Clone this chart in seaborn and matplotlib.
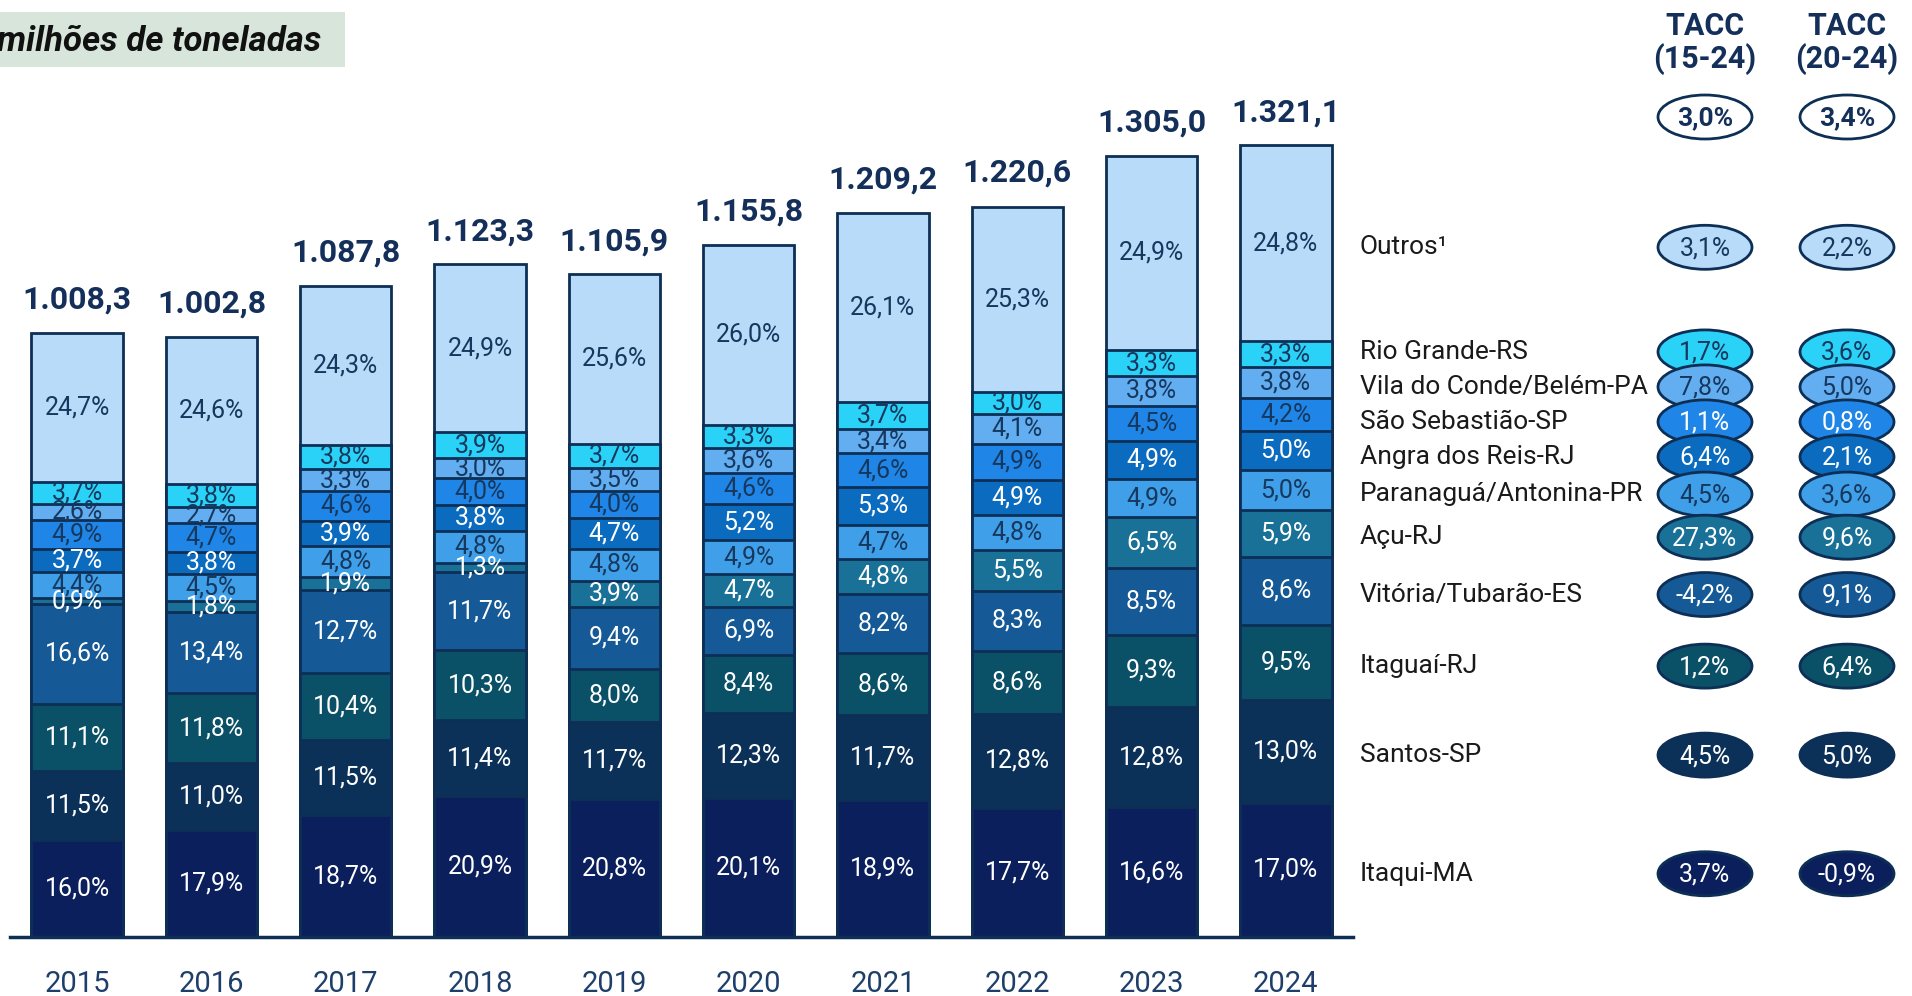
import numpy as np
import pandas as pd
import matplotlib.pyplot as plt
from matplotlib.patches import Ellipse, Rectangle
import seaborn as sns

# anos e totais (milhões de toneladas)
years = ["2015", "2016", "2017", "2018", "2019", "2020", "2021", "2022", "2023", "2024"]
totals = [1008.3, 1002.8, 1087.8, 1123.3, 1105.9, 1155.8, 1209.2, 1220.6, 1305.0, 1321.1]

# participação (%) de cada porto, de baixo para cima
itaqui = [16.0, 17.9, 18.7, 20.9, 20.8, 20.1, 18.9, 17.7, 16.6, 17.0]
santos = [11.5, 11.0, 11.5, 11.4, 11.7, 12.3, 11.7, 12.8, 12.8, 13.0]
itaguai = [11.1, 11.8, 10.4, 10.3, 8.0, 8.4, 8.6, 8.6, 9.3, 9.5]
vitoria = [16.6, 13.4, 12.7, 11.7, 9.4, 6.9, 8.2, 8.3, 8.5, 8.6]
acu = [0.9, 1.8, 1.9, 1.3, 3.9, 4.7, 4.8, 5.5, 6.5, 5.9]
paranagua = [4.4, 4.5, 4.8, 4.8, 4.8, 4.9, 4.7, 4.8, 4.9, 5.0]
angra = [3.7, 3.8, 3.9, 3.8, 4.7, 5.2, 5.3, 4.9, 4.9, 5.0]
sao_sebastiao = [4.9, 4.7, 4.6, 4.0, 4.0, 4.6, 4.6, 4.9, 4.5, 4.2]
vila_do_conde = [2.6, 2.7, 3.3, 3.0, 3.5, 3.6, 3.4, 4.1, 3.8, 3.8]
rio_grande = [3.7, 3.8, 3.8, 3.9, 3.7, 3.3, 3.7, 3.0, 3.3, 3.3]
outros = [24.7, 24.6, 24.3, 24.9, 25.6, 26.0, 26.1, 25.3, 24.9, 24.8]

ports = ["Itaqui-MA", "Santos-SP", "Itaguaí-RJ", "Vitória/Tubarão-ES", "Açu-RJ",
         "Paranaguá/Antonina-PR", "Angra dos Reis-RJ", "São Sebastião-SP",
         "Vila do Conde/Belém-PA", "Rio Grande-RS", "Outros¹"]
shares = [itaqui, santos, itaguai, vitoria, acu, paranagua, angra,
          sao_sebastiao, vila_do_conde, rio_grande, outros]

# TACC por porto (mesma ordem) e total
tacc_15_24 = ["3,7%", "4,5%", "1,2%", "-4,2%", "27,3%", "4,5%", "6,4%", "1,1%", "7,8%", "1,7%", "3,1%"]
tacc_20_24 = ["-0,9%", "5,0%", "6,4%", "9,1%", "9,6%", "3,6%", "2,1%", "0,8%", "5,0%", "3,6%", "2,2%"]
tacc_total = ["3,0%", "3,4%"]

colors = ["#0b1f5c", "#0c3158", "#0a5168", "#155a96", "#1a7198", "#3f9fe8",
          "#0b6bbf", "#1f86e8", "#62aef0", "#2ad2f7", "#b7dbf8"]
NAVY = "#0d2f55"
DARK_TXT = "#17385e"
bar_txt = ["white"] * 5 + [DARK_TXT, "white", DARK_TXT, DARK_TXT, DARK_TXT, DARK_TXT]
ell_txt = ["white"] * 5 + [DARK_TXT, "white", "white", DARK_TXT, DARK_TXT, DARK_TXT]

sns.set_style("white")
plt.rcParams["font.family"] = ["Roboto", "DejaVu Sans"]

W, H = 1912, 996
fig = plt.figure(figsize=(W / 100, H / 100), dpi=100)
ax = fig.add_axes([10 / W, 1 - 937 / H, 1343 / W, 937 / H])

vals = np.array(shares) / 100 * np.array(totals)  # milhões de toneladas
cum = np.cumsum(vals, axis=0)

# barras empilhadas: acumulados sobrepostos, do topo para a base
for i in reversed(range(len(ports))):
    df = pd.DataFrame({"ano": years, "v": cum[i]})
    sns.barplot(data=df, x="ano", y="v", color=colors[i], saturation=1,
                width=0.68, edgecolor=NAVY, linewidth=2, errorbar=None, ax=ax)

ax.set_xlim(-0.5, 9.5)
ax.set_ylim(0, max(totals) * 937 / 791)
ax.set_xlabel("")
ax.set_ylabel("")
ax.set_yticks([])
for s in ["left", "right", "top"]:
    ax.spines[s].set_visible(False)
ax.spines["bottom"].set_color(NAVY)
ax.spines["bottom"].set_linewidth(2.5)
ax.set_xticks(range(len(years)))
ax.set_xticklabels(years, fontsize=21, color="#1f3f6b")
ax.tick_params(axis="x", which="major", length=0, pad=24)
ax.set_xticks(np.arange(-0.5, len(years)), minor=True)
ax.tick_params(axis="x", which="minor", length=10, width=2.5, color=NAVY, direction="out")

# rótulos de participação
for i in range(len(ports)):
    for j in range(len(years)):
        y = cum[i][j] - vals[i][j] / 2
        ax.text(j, y, f"{shares[i][j]:.1f}".replace(".", ",") + "%", ha="center", va="center",
                fontsize=18, color=bar_txt[i], zorder=10)

# totais
for j, t in enumerate(totals):
    lbl = f"{t:,.1f}".replace(",", "X").replace(".", ",").replace("X", ".")
    ax.annotate(lbl, (j, t), xytext=(0, 24), textcoords="offset points", ha="center",
                va="center", fontsize=23, fontweight="bold", color="#14305a")

# camada de sobreposição em pixels
ov = fig.add_axes([0, 0, 1, 1])
ov.set_xlim(0, W)
ov.set_ylim(H, 0)
ov.axis("off")
ov.patch.set_alpha(0)

# título
ov.add_patch(Rectangle((0, 12), 345, 55, facecolor="#d7e5db", edgecolor="none"))
ov.text(-3, 41, "milhões de toneladas", fontsize=25, fontweight="bold", style="italic",
        color="#111111", va="center", ha="left")

# cabeçalho TACC
cx = [1705, 1847]
for x, h in zip(cx, ["(15-24)", "(20-24)"]):
    ov.text(x, 26, "TACC", ha="center", va="center", fontsize=22, fontweight="bold", color="#14305a")
    ov.text(x, 59, h, ha="center", va="center", fontsize=22, fontweight="bold", color="#14305a")
for x, v in zip(cx, tacc_total):
    ov.add_patch(Ellipse((x, 117), 94, 44, facecolor="white", edgecolor=NAVY, linewidth=2))
    ov.text(x, 118, v, ha="center", va="center", fontsize=19, fontweight="bold", color="#14305a")

# posições verticais: meio dos segmentos de 2024
fig.canvas.draw()
mid = cum[:, -1] - vals[:, -1] / 2
ys = [H - ax.transData.transform((9, m))[1] + 4 for m in mid]
order = list(reversed(range(len(ports))))  # de cima para baixo
py = [ys[k] for k in order]
for _ in range(60):
    for k in range(len(py) - 1):
        gap = py[k + 1] - py[k]
        if gap < 35:
            d = (35 - gap) / 2
            py[k] -= d
            py[k + 1] += d

for z, (k, y) in enumerate(zip(order, py)):
    ov.text(1360, y, ports[k], ha="left", va="center", fontsize=19, color="#1a1a1a")
    for x, v in zip(cx, [tacc_15_24[k], tacc_20_24[k]]):
        ov.add_patch(Ellipse((x, y), 94, 44, facecolor=colors[k], edgecolor=NAVY,
                             linewidth=2, zorder=5 + z))
        ov.text(x, y + 1, v, ha="center", va="center", fontsize=18, color=ell_txt[k],
                zorder=5.5 + z)

fig.savefig("out.png", dpi=100)
